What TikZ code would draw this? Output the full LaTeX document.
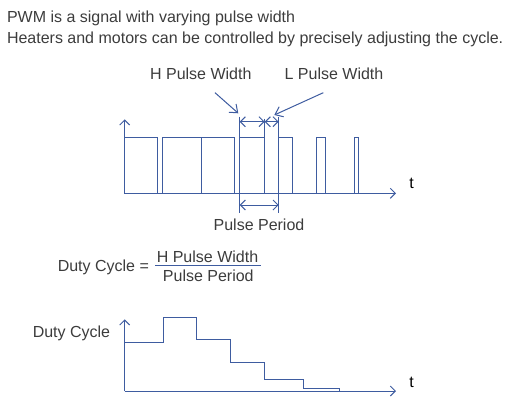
\documentclass[tikz,border=0pt]{standalone}
\usepackage{fontspec}
\setmainfont{Liberation Sans}
\usetikzlibrary{arrows.meta}
\definecolor{ln}{RGB}{62,92,160}
\definecolor{tx}{RGB}{60,60,60}
\begin{document}
\begin{tikzpicture}[x=1pt,y=-1pt,line width=1pt,
  wave/.style={draw=ln},
  axisarrow/.style={draw=ln,-{Straight Barb[length=5pt,width=10pt]}},
  dimarrow/.style={draw=ln,{Straight Barb[length=5pt,width=10pt]}-{Straight Barb[length=5pt,width=10pt]}},
  pointer/.style={draw=ln,-{Straight Barb[length=7pt,width=11pt]}},
  lbl/.style={text=tx,font=\fontsize{16}{18}\selectfont,inner sep=0pt},
  tlbl/.style={text=black,font=\fontsize{16}{18}\selectfont,inner sep=0pt}]
\useasboundingbox (0,0) rectangle (514,402);
% title
\node[lbl,anchor=base west] (title1) at (6.5,22.3) {PWM is a signal with varying pulse width};
\node[lbl,anchor=base west] (title2) at (6.5,43.3) {Heaters and motors can be controlled by precisely adjusting the cycle.};
% top chart axes
\coordinate (o1) at (124.7,193.3);
\coordinate (ytop1) at (124.7,119.3);
\coordinate (xend1) at (396,193.3);
\draw[axisarrow] (o1) -- (ytop1);
\draw[axisarrow] (o1) -- (xend1);
\node[tlbl,anchor=base] (t1) at (411.5,188.3) {t};
% pulses
\draw[wave] (124.7,193.3) rectangle (157.7,137.3);
\draw[wave] (162.7,193.3) rectangle (201.7,137.3);
\draw[wave] (201.7,193.3) rectangle (234.3,137.3);
\draw[wave] (239.7,193.3) rectangle (264.7,137.3);
\draw[wave] (278.7,193.3) rectangle (292,137.3);
\draw[wave] (316.7,193.3) rectangle (325,137.3);
\draw[wave] (354.7,193.3) rectangle (358.3,137.3);
% extension lines
\coordinate (e1t) at (239.7,116.7); \coordinate (e1b) at (239.7,213);
\coordinate (e2t) at (264.7,118.7); \coordinate (e2b) at (264.7,193.3);
\coordinate (e3t) at (278.7,117); \coordinate (e3b) at (278.7,213);
\draw[wave] (e1t) -- (e1b);
\draw[wave] (e2t) -- (e2b);
\draw[wave] (e3t) -- (e3b);
% dimension arrows
\coordinate (h1) at (239.7,121.7); \coordinate (h2) at (264.7,121.7); \coordinate (h3) at (278.7,121.7);
\draw[dimarrow] (h1) -- (h2);
\draw[dimarrow] (h2) -- (h3);
\coordinate (p1) at (239.7,205); \coordinate (p2) at (278.7,205);
\draw[dimarrow] (p1) -- (p2);
% labels
\node[lbl,anchor=base] (hpw) at (200.8,79.3) {H Pulse Width};
\node[lbl,anchor=base] (lpw) at (334,79.8) {L Pulse Width};
\node[lbl,anchor=base] (pp) at (259,230.5) {Pulse Period};
\coordinate (hs) at (215,92.7); \coordinate (he) at (238.3,113.3);
\coordinate (ls) at (323.3,92.7); \coordinate (le) at (274.3,115);
\draw[pointer] (hs) -- (he);
\draw[pointer] (ls) -- (le);
% formula
\node[lbl,anchor=base west] (dc) at (57.3,271.7) {Duty Cycle =};
\node[lbl,anchor=base] (num) at (207.5,262.3) {H Pulse Width};
\node[lbl,anchor=base] (den) at (208.3,281) {Pulse Period};
\coordinate (f1) at (155,265.7); \coordinate (f2) at (260.7,265.7);
\draw[wave] (f1) -- (f2);
% bottom chart
\node[lbl,anchor=base west] (dcl) at (32.3,337.3) {Duty Cycle};
\coordinate (o2) at (124.7,391);
\coordinate (ytop2) at (124.7,319.3);
\coordinate (xend2) at (396,391);
\draw[axisarrow] (o2) -- (ytop2);
\draw[axisarrow] (o2) -- (xend2);
\node[tlbl,anchor=base] (t2) at (411.5,387.3) {t};
\draw[wave] (124.7,342) -- (163.3,342) -- (163.3,317.3) -- (196,317.3) -- (196,339.7) -- (230.7,339.7) -- (230.7,362) -- (264,362) -- (264,379.3) -- (303.7,379.3) -- (303.7,388.3) -- (339.3,388.3) -- (339.3,391);
\end{tikzpicture}
\end{document}
